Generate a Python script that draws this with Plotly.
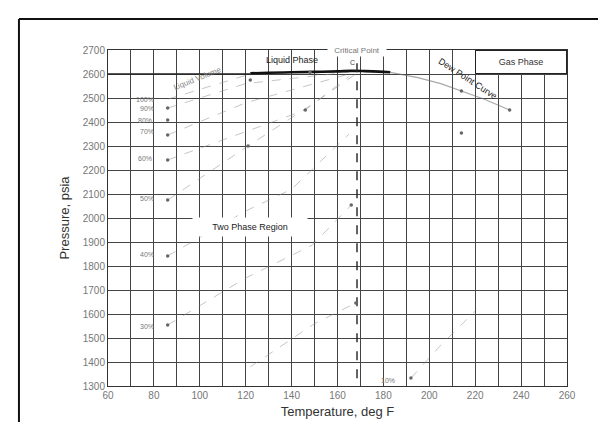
import plotly.graph_objects as go

# ---------------- data ----------------
x_ticks = [60, 80, 100, 120, 140, 160, 180, 200, 220, 240, 260]
y_ticks = [1300, 1400, 1500, 1600, 1700, 1800, 1900, 2000, 2100, 2200, 2300, 2400, 2500, 2600, 2700]

# thick bubble-point / critical region curve near the top
bubble_T = [122, 130, 140, 150, 160, 166, 172, 178, 183]
bubble_P = [2603, 2605, 2607, 2609, 2611, 2613, 2612, 2610, 2607]

# dew point curve (grey, descending to the right)
dew_T = [183, 195, 205, 214, 224, 235]
dew_P = [2607, 2585, 2560, 2529, 2495, 2450]

# critical temperature (dashed vertical)
crit_T = 168.5
crit_P_top = 2645

# liquid-volume (quality) lines, faint dashed
quality_labels = ["100%", "90%", "80%", "70%", "60%", "50%", "40%", "30%", "10%"]
quality_label_T = [76, 77, 76, 77, 76, 77, 77, 77, 182]
quality_label_P = [2492, 2458, 2408, 2362, 2250, 2083, 1846, 1550, 1325]
quality_lines = {
    "100%": ([86, 105, 122], [2495, 2550, 2600]),
    "90%": ([86, 120, 165], [2458, 2560, 2608]),
    "70%": ([86, 120, 165], [2346, 2480, 2600]),
    "60%": ([86, 146, 165], [2242, 2450, 2590]),
    "50%": ([86, 121, 150, 168], [2075, 2300, 2480, 2600]),
    "40%": ([86, 120, 140, 165], [1842, 2029, 2120, 2350]),
    "30%": ([86, 120, 149, 166], [1554, 1750, 1887, 2054]),
    "20%": ([122, 150, 168], [1380, 1560, 1646]),
    "10%": ([192, 205, 220], [1333, 1470, 1612]),
}
dot_T = [86, 86, 86, 86, 86, 86, 86, 192, 121, 146, 166, 168, 214, 235, 148, 122, 214]
dot_P = [2458, 2408, 2346, 2242, 2075, 1842, 1554, 1333, 2300, 2450, 2054, 1646, 2529, 2450, 2607, 2575, 2354]

# thick boundary segments (darker grid lines)
bound_T = [60, 122]
bound_P = [2600, 2600]

# ---------------- figure ----------------
fig = go.Figure()

grey = "rgba(140,140,140,0.5)"
for name, (tt, pp) in quality_lines.items():
    fig.add_trace(go.Scatter(x=tt, y=pp, mode="lines",
                             line=dict(color=grey, width=1, dash="dash"),
                             hoverinfo="skip", showlegend=False))

fig.add_trace(go.Scatter(x=dew_T, y=dew_P, mode="lines",
                         line=dict(color="rgba(110,110,110,0.6)", width=1.2),
                         showlegend=False))
fig.add_trace(go.Scatter(x=bound_T, y=bound_P, mode="lines",
                         line=dict(color="#222", width=1.3), showlegend=False))
fig.add_trace(go.Scatter(x=bubble_T, y=bubble_P, mode="lines",
                         line=dict(color="#111", width=2.6, shape="spline"),
                         showlegend=False))
fig.add_trace(go.Scatter(x=[crit_T, crit_T], y=[crit_P_top, 1300], mode="lines",
                         line=dict(color="#222", width=1.4, dash="dash"),
                         showlegend=False))
fig.add_trace(go.Scatter(x=dot_T, y=dot_P, mode="markers",
                         marker=dict(color="#666", size=3.5), showlegend=False))

for lab, t, p in zip(quality_labels, quality_label_T, quality_label_P):
    fig.add_annotation(x=t, y=p, text=lab, showarrow=False,
                       font=dict(size=7, color="#777"))

fig.add_annotation(x=122, y=1962, text="Two Phase Region", showarrow=False,
                   bgcolor="white", width=112, height=16,
                   font=dict(size=9, color="#222"))
fig.add_annotation(x=140, y=2658, text="Liquid Phase", showarrow=False,
                   font=dict(size=9, color="#222"))
fig.add_annotation(x=168.5, y=2700, text="Critical Point", showarrow=False,
                   bgcolor="white", width=56, height=9,
                   font=dict(size=8, color="#777"))
fig.add_annotation(x=166.5, y=2646, text="C", showarrow=False,
                   font=dict(size=7, color="#444"))
fig.add_annotation(x=240, y=2650, text="Gas Phase", showarrow=False,
                   bgcolor="white", bordercolor="#222", borderwidth=1,
                   borderpad=1, width=88, height=20,
                   font=dict(size=9, color="#333"))
fig.add_annotation(x=217, y=2580, text="Dew Point Curve", showarrow=False,
                   textangle=33, font=dict(size=9, color="#222"))
fig.add_annotation(x=99, y=2583, text="Liquid Volume", showarrow=False,
                   textangle=-22, font=dict(size=8, color="#888"))

# frame lines of the scanned page
fig.add_shape(type="line", xref="paper", yref="paper",
              x0=-0.194, x1=1.1, y0=1.092, y1=1.092,
              line=dict(color="#111", width=2))
fig.add_shape(type="line", xref="paper", yref="paper",
              x0=-0.194, x1=-0.194, y0=1.092, y1=-0.14,
              line=dict(color="#111", width=2))

axis_common = dict(showline=True, linecolor="#333", linewidth=1, mirror=True,
                   gridcolor="#444", gridwidth=1, zeroline=False, ticks="",
                   tickfont=dict(family="Liberation Sans, Arial", size=10, color="#777"))

fig.update_xaxes(range=[60, 260], tickvals=x_ticks,
                 minor=dict(dtick=10, showgrid=True, gridcolor="#444", gridwidth=1),
                 title=dict(text="Temperature, deg F", standoff=6,
                            font=dict(family="Liberation Sans, Arial", size=13, color="#333")),
                 **axis_common)
fig.update_yaxes(range=[1300, 2700], tickvals=y_ticks,
                 title=dict(text="Pressure, psia", standoff=10,
                            font=dict(family="Liberation Sans, Arial", size=13, color="#333")),
                 **axis_common)

fig.update_layout(width=606, height=422,
                  margin=dict(l=100, r=47, t=42, b=44),
                  paper_bgcolor="white", plot_bgcolor="white",
                  font=dict(family="Liberation Sans, Arial"),
                  showlegend=False)

fig.write_html("out.html")
